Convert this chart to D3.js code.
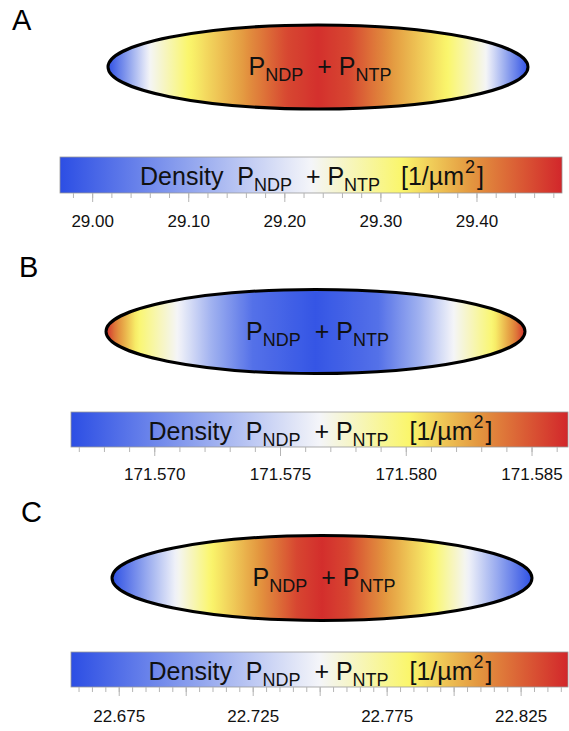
<!DOCTYPE html>
<html>
<head>
<meta charset="utf-8">
<script src="https://cdn.jsdelivr.net/npm/d3@7"></script>
<style>
  html, body { margin: 0; padding: 0; background: #fff; }
  svg { display: block; font-family: "Liberation Sans", Arial, sans-serif; }
  svg text { white-space: pre; }
</style>
</head>
<body>
<svg id="fig" width="569" height="731"></svg>
<script>
// Panel letters
const panelLabels = ["A", "B", "C"];

// Density profile along the long axis of each cell (u = -1 left pole, 0 middle, 1 right pole)
const profilePosA = [-1, -0.9, -0.8, -0.62, -0.36, -0.15, 0, 0.15, 0.36, 0.62, 0.8, 0.9, 1];
const profileDensA = [28.97, 29.10, 29.23, 29.32, 29.39, 29.46, 29.48, 29.46, 29.39, 29.32, 29.23, 29.10, 28.97];

const profilePosB = [-1, -0.95, -0.85, -0.66, -0.5, -0.3, 0, 0.3, 0.5, 0.66, 0.85, 0.95, 1];
const profileDensB = [171.5862, 171.5834, 171.5801, 171.5766, 171.5726, 171.5687, 171.5671, 171.5687, 171.5726, 171.5766, 171.5801, 171.5834, 171.5862];

const profilePosC = [-1, -0.85, -0.69, -0.53, -0.3, -0.12, 0, 0.12, 0.3, 0.53, 0.69, 0.85, 1];
const profileDensC = [22.658, 22.703, 22.750, 22.783, 22.809, 22.833, 22.840, 22.833, 22.809, 22.783, 22.750, 22.703, 22.658];

// Colour bar ranges and tick labels
const barDomainA = [28.966, 29.4885];
const barDomainB = [171.56667, 171.58643];
const barDomainC = [22.657, 22.8425];

const tickLabelsA = ["29.00", "29.10", "29.20", "29.30", "29.40"];
const tickLabelsB = ["171.570", "171.575", "171.580", "171.585"];
const tickLabelsC = ["22.675", "22.725", "22.775", "22.825"];

// Minor tick spacing on each bar
const minorStepA = 0.02, minorStartA = 28.98;
const minorStepB = 0.001, minorStartB = 171.567;
const minorStepC = 0.005, minorStartC = 22.660;
const midStepC = 0.025;

// Colour map: blue - white - yellow - orange - red
const cmapStops = [0, 0.25, 0.5, 0.68, 0.82, 1];
const cmapColors = ["#2c4ee4", "#8ea2ee", "#f4f5f9", "#faf66c", "#e3963f", "#d2262b"];
const cmap = d3.scaleLinear().domain(cmapStops).range(cmapColors).interpolate(d3.interpolateRgb).clamp(true);

const svg = d3.select("#fig");
const defs = svg.append("defs");

const panels = [
  { label: panelLabels[0], labelPos: [12, 30],
    cell: { cx: 318, cy: 67, rx: 210, ry: 42 }, pos: profilePosA, dens: profileDensA,
    bar: { x0: 60, x1: 562, y: 157, h: 36 }, domain: barDomainA,
    labels: tickLabelsA, minorStep: minorStepA, minorStart: minorStartA, midStep: null, labelY: 227 },
  { label: panelLabels[1], labelPos: [19, 277],
    cell: { cx: 315.5, cy: 331.5, rx: 209.5, ry: 42 }, pos: profilePosB, dens: profileDensB,
    bar: { x0: 71, x1: 568, y: 412, h: 35 }, domain: barDomainB,
    labels: tickLabelsB, minorStep: minorStepB, minorStart: minorStartB, midStep: null, labelY: 480 },
  { label: panelLabels[2], labelPos: [21, 522],
    cell: { cx: 322, cy: 578, rx: 210, ry: 42.5 }, pos: profilePosC, dens: profileDensC,
    bar: { x0: 71, x1: 568, y: 652, h: 35 }, domain: barDomainC,
    labels: tickLabelsC, minorStep: minorStepC, minorStart: minorStartC, midStep: midStepC, labelY: 722 }
];

const MAIN = 25, SUB = 18, SUB_DY = 6;

// "P_NDP + P_NTP" with subscripts
function speciesText(sel) {
  sel.append("tspan").text("P");
  sel.append("tspan").attr("font-size", SUB).attr("dy", SUB_DY).text("NDP");
  sel.append("tspan").attr("dy", -SUB_DY).text("  + P");
  sel.append("tspan").attr("font-size", SUB).attr("dy", SUB_DY).text("NTP");
  return sel;
}

panels.forEach((p, i) => {
  const g = svg.append("g");
  const x = d3.scaleLinear().domain(p.domain).range([p.bar.x0, p.bar.x1]);
  const frac = d3.scaleLinear().domain(p.domain).range([0, 1]).clamp(true);

  // Panel letter
  g.append("text").attr("x", p.labelPos[0]).attr("y", p.labelPos[1])
    .attr("font-size", 29).attr("fill", "#000").text(p.label);

  // Cell: density profile mapped along the long axis
  const c = p.cell;
  const profile = d3.scaleLinear().domain(p.pos).range(p.dens);
  const gradCell = defs.append("linearGradient").attr("id", "cell" + i)
    .attr("gradientUnits", "userSpaceOnUse")
    .attr("x1", c.cx - c.rx).attr("x2", c.cx + c.rx).attr("y1", c.cy).attr("y2", c.cy);
  d3.range(0, 1.0001, 0.01).forEach(t => {
    const u = -1 + 2 * t;
    gradCell.append("stop").attr("offset", t).attr("stop-color", cmap(frac(profile(u))));
  });
  g.append("ellipse").attr("cx", c.cx).attr("cy", c.cy).attr("rx", c.rx).attr("ry", c.ry)
    .attr("fill", `url(#cell${i})`).attr("stroke", "#000").attr("stroke-width", 3);

  speciesText(g.append("text").attr("x", c.cx + 2).attr("y", c.cy + 8)
    .attr("text-anchor", "middle").attr("font-size", MAIN).attr("fill", "#111"));

  // Colour bar
  const gradBar = defs.append("linearGradient").attr("id", "bar" + i);
  cmapStops.forEach((s, k) => gradBar.append("stop").attr("offset", s).attr("stop-color", cmapColors[k]));
  g.append("rect").attr("x", p.bar.x0).attr("y", p.bar.y)
    .attr("width", p.bar.x1 - p.bar.x0).attr("height", p.bar.h)
    .attr("fill", `url(#bar${i})`).attr("stroke", "#9a9a9a").attr("stroke-width", 0.8);

  const title = g.append("text").attr("x", (p.bar.x0 + p.bar.x1) / 2 + 1).attr("y", p.bar.y + 28)
    .attr("text-anchor", "middle").attr("font-size", MAIN).attr("fill", "#111");
  title.append("tspan").text("Density  P");
  title.append("tspan").attr("font-size", SUB).attr("dy", SUB_DY).text("NDP");
  title.append("tspan").attr("dy", -SUB_DY).text("  + P");
  title.append("tspan").attr("font-size", SUB).attr("dy", SUB_DY).text("NTP");
  title.append("tspan").attr("dy", -SUB_DY).text("   [1/µm");
  title.append("tspan").attr("font-size", 18).attr("dx", 1).attr("dy", -12).text("2");
  title.append("tspan").attr("dx", 2).attr("dy", 12).text("]");

  // Ticks below the bar
  const tb = p.bar.y + p.bar.h;
  const minor = d3.range(p.minorStart, p.domain[1], p.minorStep).filter(v => v >= p.domain[0]);
  g.append("g").selectAll("line").data(minor).join("line")
    .attr("x1", d => x(d)).attr("x2", d => x(d)).attr("y1", tb).attr("y2", tb + 5)
    .attr("stroke", "#b5b5b5").attr("stroke-width", 1);
  const majorVals = p.labels.map(Number);
  let longVals = majorVals;
  if (p.midStep) {
    longVals = d3.range(majorVals[0], p.domain[1], p.midStep);
  }
  g.append("g").selectAll("line").data(longVals).join("line")
    .attr("x1", d => x(d)).attr("x2", d => x(d)).attr("y1", tb).attr("y2", tb + 9)
    .attr("stroke", "#b5b5b5").attr("stroke-width", 1);

  g.append("g").selectAll("text").data(p.labels).join("text")
    .attr("x", d => x(+d)).attr("y", p.labelY)
    .attr("text-anchor", "middle").attr("font-size", 17)
    .attr("fill", "#111").text(d => d);
});
</script>
</body>
</html>
